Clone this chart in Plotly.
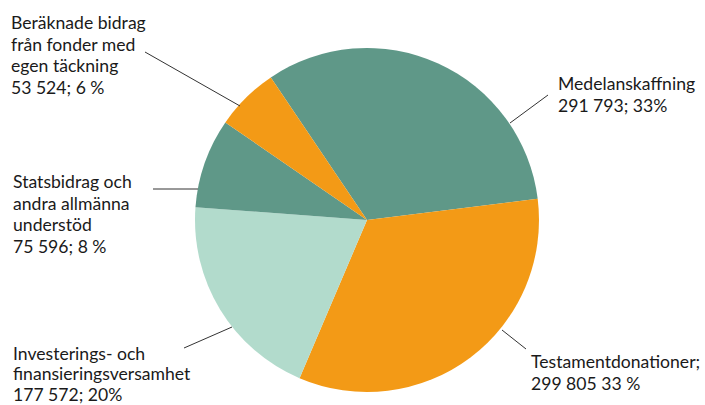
import plotly.graph_objects as go

# ---- data ----
categories = [
    "Medelanskaffning",
    "Testamentdonationer",
    "Investerings- och finansieringsversamhet",
    "Statsbidrag och andra allmänna understöd",
    "Beräknade bidrag från fonder med egen täckning",
]
values = [291793, 299805, 177572, 75596, 53524]
label_lines = [
    ["Medelanskaffning", "291 793; 33%"],
    ["Testamentdonationer;", "299 805 33 %"],
    ["Investerings- och", "finansieringsversamhet", "177 572; 20%"],
    ["Statsbidrag och", "andra allmänna", "understöd", "75 596; 8 %"],
    ["Beräknade bidrag", "från fonder med", "egen täckning", "53 524; 6 %"],
]
colors = ["#5f9888", "#f39a16", "#b2dbcc", "#5f9888", "#f39a16"]

W, H = 705, 405
def px(x):
    return x / W
def py(y):
    return 1 - y / H

# label layout: (left x, first baseline y, line spacing) in pixels
label_pos = [(557, 89, 22.3), (530, 367, 22.6), (12, 359, 20.5), (12, 187, 21.9), (10, 28, 21.9)]
leader = [
    ((548, 95), (510, 123)),
    ((526, 349), (502, 330)),
    ((184, 348), (232, 327)),
    ((153, 189), (198, 189)),
    ((145, 52), (240, 106)),
]

cx, cy, r = 367, 220, 172

fig = go.Figure(go.Pie(
    labels=categories,
    values=values,
    sort=False,
    direction="clockwise",
    rotation=-34,
    marker=dict(colors=colors, line=dict(width=0)),
    textinfo="none",
    hoverinfo="label+value+percent",
    showlegend=False,
    domain=dict(x=[px(cx - r), px(cx + r)], y=[py(cy + r), py(cy - r)]),
))

FS = 17.6
font = dict(family="Lato, 'Noto Sans', sans-serif", size=FS, color="#1a1a1a")
annotations = []
for lines, (x, y0, dy) in zip(label_lines, label_pos):
    for i, line in enumerate(lines):
        base = y0 + i * dy
        annotations.append(dict(
            x=px(x), y=py(base - 0.33 * FS), xref="paper", yref="paper",
            xanchor="left", yanchor="middle", align="left",
            text=line, showarrow=False, font=font, borderpad=0,
        ))
shapes = []
for (x0, y0), (x1, y1) in leader:
    shapes.append(dict(
        type="line", xref="paper", yref="paper",
        x0=px(x0), y0=py(y0), x1=px(x1), y1=py(y1),
        line=dict(color="#333333", width=1),
    ))

fig.update_layout(
    width=W, height=H,
    margin=dict(l=0, r=0, t=0, b=0),
    paper_bgcolor="white",
    plot_bgcolor="white",
    annotations=annotations,
    shapes=shapes,
)
fig.write_html("out.html", config={"displayModeBar": False},
               post_script="document.body.style.margin='0';")
